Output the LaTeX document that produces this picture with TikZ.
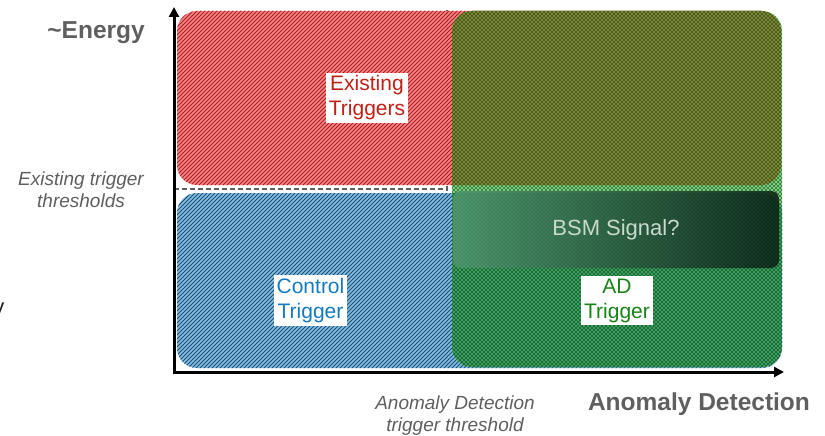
\documentclass[tikz,border=0pt]{standalone}
\usepackage{fontspec}
\setmainfont{Liberation Sans}
\usetikzlibrary{arrows.meta,patterns.meta}
\definecolor{redbase}{RGB}{255,118,118}
\definecolor{redline}{RGB}{160,35,40}
\definecolor{bluebase}{RGB}{120,185,225}
\definecolor{blueline}{RGB}{35,78,118}
\definecolor{greenlight}{RGB}{140,210,140}
\definecolor{greenlightline}{RGB}{40,120,50}
\definecolor{olivebase}{RGB}{155,128,50}
\definecolor{oliveline}{RGB}{35,98,32}
\definecolor{dkgreenbase}{RGB}{65,162,100}
\definecolor{dkgreenline}{RGB}{22,98,48}
\definecolor{redtext}{RGB}{192,32,22}
\definecolor{bluetext}{RGB}{22,122,190}
\definecolor{greentext}{RGB}{22,132,22}
\definecolor{graytext}{RGB}{95,95,95}
\definecolor{bsmleft}{RGB}{80,150,112}
\definecolor{bsmright}{RGB}{10,30,20}
\definecolor{bsmtext}{RGB}{200,218,204}
\tikzset{
  region/.style={rounded corners=20pt},
  redregion/.style={region, fill=redbase, fill opacity=0.92,
    postaction={pattern={Lines[angle=45,distance=2.8284pt,line width=0.8pt]}, pattern color=redline}},
  blueregion/.style={region, fill=bluebase, fill opacity=0.92,
    postaction={pattern={Lines[angle=45,distance=2.8284pt,line width=0.8pt]}, pattern color=blueline}},
  greenregion/.style={region, fill=greenlight,
    postaction={pattern={Hatch[angle=45,distance=2.8284pt,line width=0.6pt]}, pattern color=greenlightline}},
  oliveregion/.style={region, fill=olivebase,
    postaction={pattern={Hatch[angle=45,distance=2.8284pt,line width=0.6pt]}, pattern color=oliveline}},
  dkgreenregion/.style={region, fill=dkgreenbase,
    postaction={pattern={Hatch[angle=45,distance=2.8284pt,line width=0.6pt]}, pattern color=dkgreenline}},
  threshold/.style={draw=graytext, line width=1.5pt, dash pattern=on 5pt off 3pt},
  axis/.style={line width=3pt, {Triangle[length=10pt,width=10pt]}-{Triangle[length=10pt,width=10pt]}},
  tag/.style={fill=white, align=center, inner sep=3pt,
    font=\fontsize{21}{25}\selectfont},
  bsmbox/.style={rounded corners=8pt, minimum width=326pt, minimum height=77pt,
    left color=bsmleft, right color=bsmright, fill opacity=0.85, text opacity=1,
    text=bsmtext, font=\fontsize{22}{26}\selectfont},
  boldlabel/.style={text=graytext, font=\fontsize{24.5}{28}\selectfont\bfseries, inner sep=0pt},
  notelabel/.style={text=graytext, align=center, inner sep=0pt,
    font=\fontsize{19}{22}\selectfont\itshape},
}
\begin{document}
\begin{tikzpicture}[x=1pt,y=-1pt]
\useasboundingbox (0,0) rectangle (825,436);
% threshold lines (under the regions)
\coordinate (hstart) at (174,189);
\coordinate (corner) at (447,189);
\coordinate (vtop) at (447,10);
\coordinate (vbot) at (447,370);
\draw[threshold] (hstart) -- (corner);
\draw[threshold] (vtop) -- (vbot);
% regions
\path[redregion] (177,11) rectangle (781,185);
\path[blueregion] (177,193) rectangle (782,368);
\path[greenregion] (452,11) rectangle (782,367);
\begin{scope}
  \clip[region] (452,11) rectangle (782,367);
  \path[oliveregion] (177,11) rectangle (781,185);
  \path[dkgreenregion] (177,193) rectangle (782,368);
\end{scope}
% BSM box
\node[bsmbox] (bsm) at (616,229.5) {BSM Signal?};
% axes
\coordinate (ytip) at (174,7);
\coordinate (origin) at (174,372);
\coordinate (xtip) at (784,372);
\draw[axis] (ytip) -- (origin) -- (xtip);
% labels
\node[tag, text=redtext] (existing) at (367,98) {Existing\\Triggers};
\node[tag, text=bluetext] (control) at (310.5,300.5) {Control\\Trigger};
\node[tag, text=greentext] (ad) at (617,300.5) {AD\\Trigger};
\node[boldlabel, anchor=east] (energy) at (145,33) {\textasciitilde Energy};
\node[boldlabel] (adaxis) at (699,404) {Anomaly Detection};
\node[notelabel] (extthr) at (81,190) {Existing trigger\\thresholds};
\node[notelabel] (adthr) at (455,416) {Anomaly Detection\\trigger threshold};
\node[anchor=base east, inner sep=0pt, text={rgb,255:red,30;green,30;blue,30},
  font=\fontsize{22}{26}\selectfont] (frag) at (4.5,314) {y};
\end{tikzpicture}
\end{document}
